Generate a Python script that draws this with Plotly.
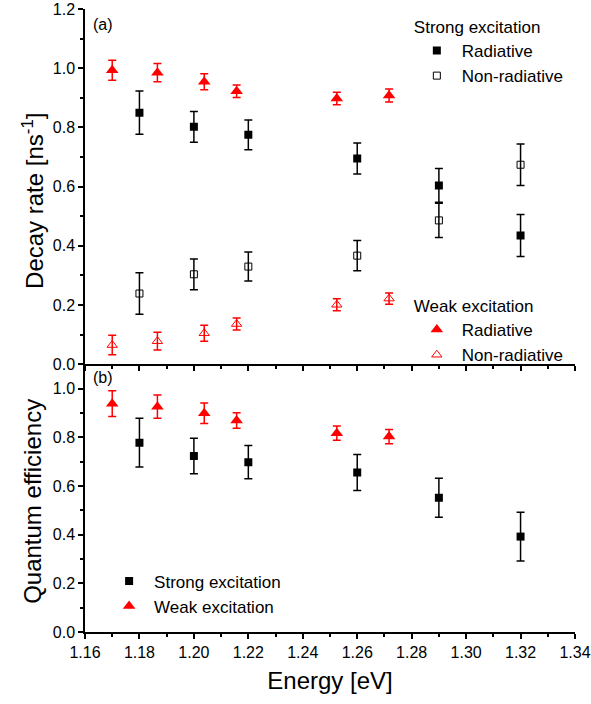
import plotly.graph_objects as go

# Emission energies (eV)
energy_strong = [1.18, 1.20, 1.22, 1.26, 1.29, 1.32]
energy_weak = [1.170, 1.1866, 1.2038, 1.2157, 1.2525, 1.2717]

# Decay rates (ns^-1), strong excitation
strong_rad = [0.850, 0.802, 0.775, 0.695, 0.604, 0.435]
strong_rad_err = [0.073, 0.052, 0.050, 0.052, 0.057, 0.071]
strong_nonrad = [0.239, 0.304, 0.330, 0.367, 0.486, 0.674]
strong_nonrad_err = [0.070, 0.052, 0.049, 0.051, 0.058, 0.070]

# Decay rates (ns^-1), weak excitation
weak_rad = [0.993, 0.985, 0.954, 0.922, 0.898, 0.908]
weak_rad_err = [0.034, 0.031, 0.027, 0.021, 0.021, 0.022]
weak_nonrad = [0.065, 0.078, 0.105, 0.136, 0.201, 0.222]
weak_nonrad_err = [0.033, 0.030, 0.027, 0.020, 0.020, 0.019]

# Quantum efficiency
qe_strong = [0.778, 0.723, 0.698, 0.655, 0.552, 0.392]
qe_strong_err = [0.100, 0.073, 0.068, 0.074, 0.080, 0.100]
qe_weak = [0.938, 0.926, 0.899, 0.869, 0.817, 0.803]
qe_weak_err = [0.053, 0.048, 0.042, 0.032, 0.029, 0.029]

FONT = "Arial, 'Liberation Sans', sans-serif"
BLACK = "#000000"
RED = "#ff0000"


def err(vals, color, width=4):
    return dict(type="data", array=vals, visible=True, color=color,
                thickness=1.5, width=width)


fig = go.Figure()

# (a) decay rates
fig.add_trace(go.Scatter(
    x=energy_strong, y=strong_rad, mode="markers", name="Radiative",
    marker=dict(symbol="square", size=8, color=BLACK),
    error_y=err(strong_rad_err, BLACK), xaxis="x2", yaxis="y2", legend="legend"))
fig.add_trace(go.Scatter(
    x=energy_strong, y=strong_nonrad, mode="markers", name="Non-radiative",
    marker=dict(symbol="square-open", size=7, color=BLACK, line=dict(width=1)),
    error_y=err(strong_nonrad_err, BLACK), xaxis="x2", yaxis="y2", legend="legend"))
fig.add_trace(go.Scatter(
    x=energy_weak, y=weak_rad, mode="markers", name="Radiative",
    marker=dict(symbol="triangle-up", size=11, color=RED),
    error_y=err(weak_rad_err, RED), xaxis="x2", yaxis="y2", legend="legend2"))
fig.add_trace(go.Scatter(
    x=energy_weak, y=weak_nonrad, mode="markers", name="Non-radiative",
    marker=dict(symbol="triangle-up-open", size=9, color=RED, line=dict(width=1)),
    error_y=err(weak_nonrad_err, RED), xaxis="x2", yaxis="y2", legend="legend2"))

# (b) quantum efficiency
fig.add_trace(go.Scatter(
    x=energy_strong, y=qe_strong, mode="markers", name="Strong excitation",
    marker=dict(symbol="square", size=8, color=BLACK),
    error_y=err(qe_strong_err, BLACK), xaxis="x", yaxis="y", legend="legend3"))
fig.add_trace(go.Scatter(
    x=energy_weak, y=qe_weak, mode="markers", name="Weak excitation",
    marker=dict(symbol="triangle-up", size=11, color=RED),
    error_y=err(qe_weak_err, RED), xaxis="x", yaxis="y", legend="legend3"))

split = 0.4297
xrange = [1.16, 1.34]
tickfont = dict(family=FONT, size=16, color=BLACK)
axis_common = dict(showline=True, linecolor=BLACK, linewidth=1.5, showgrid=False,
                   zeroline=False, tickcolor=BLACK, tickwidth=1.5, ticklen=5,
                   tickfont=tickfont, automargin=False)
minor_x = dict(dtick=0.01, ticklen=3, tickcolor=BLACK, tickwidth=1.5, ticks="outside")
minor_y = dict(dtick=0.1, ticklen=3, tickcolor=BLACK, tickwidth=1.5, ticks="outside")
legend_font = dict(family=FONT, size=17, color=BLACK)
title_font = dict(family=FONT, size=24, color=BLACK)

fig.update_layout(
    width=591, height=704,
    margin=dict(l=85, r=16, t=9, b=72),
    paper_bgcolor="white", plot_bgcolor="white",
    font=dict(family=FONT, color=BLACK),
    # bottom panel axes
    xaxis=dict(axis_common, domain=[0, 1], anchor="y", range=xrange, dtick=0.02,
               tickformat=".2f", ticks="outside", minor=minor_x,
               title=dict(text="Energy [eV]", font=title_font, standoff=12)),
    yaxis=dict(axis_common, domain=[0, split], anchor="x", range=[0, 1.1],
               tick0=0, dtick=0.2, tickformat=".1f", ticks="outside", minor=minor_y),
    # top panel axes
    xaxis2=dict(axis_common, domain=[0, 1], anchor="y2", range=xrange, dtick=0.02,
                ticks="outside", showticklabels=False, minor=minor_x),
    yaxis2=dict(axis_common, domain=[split, 1], anchor="x2", range=[0, 1.2],
                tick0=0, dtick=0.2, tickformat=".1f", ticks="outside", minor=minor_y),
    # mirrored frame with inward ticks
    xaxis3=dict(axis_common, overlaying="x2", anchor="y2", side="top", range=xrange,
                dtick=0.02, ticks="inside", showticklabels=False,
                minor=dict(minor_x, ticks="inside")),
    yaxis3=dict(axis_common, overlaying="y2", anchor="x2", side="right", range=[0, 1.2],
                dtick=0.2, ticks="inside", showticklabels=False,
                minor=dict(minor_y, ticks="inside")),
    yaxis4=dict(axis_common, overlaying="y", anchor="x", side="right", range=[0, 1.1],
                dtick=0.2, ticks="inside", showticklabels=False,
                minor=dict(minor_y, ticks="inside")),
    legend=dict(x=0.667, y=0.997, xanchor="left", yanchor="top",
                bgcolor="rgba(0,0,0,0)", font=legend_font,
                title=dict(text="Strong excitation", font=legend_font),
                tracegroupgap=0, itemwidth=40),
    legend2=dict(x=0.667, y=0.549, xanchor="left", yanchor="top",
                 bgcolor="rgba(0,0,0,0)", font=legend_font,
                 title=dict(text="Weak excitation", font=legend_font),
                 tracegroupgap=0, itemwidth=40),
    legend3=dict(x=0.039, y=0.11, xanchor="left", yanchor="top",
                 bgcolor="rgba(0,0,0,0)", font=legend_font,
                 tracegroupgap=0, itemwidth=40),
    annotations=[
        dict(text="(a)", xref="paper", yref="paper", x=0.012, y=0.992,
             xanchor="left", yanchor="top", showarrow=False,
             font=dict(family=FONT, size=16, color=BLACK)),
        dict(text="(b)", xref="paper", yref="paper", x=0.012, y=split - 0.004,
             xanchor="left", yanchor="top", showarrow=False,
             font=dict(family=FONT, size=16, color=BLACK)),
        # vertical axis titles of both panels
        dict(text="Decay rate [ns<sup>-1</sup>]", xref="paper", yref="paper",
             x=-0.106, y=0.692, xanchor="center", yanchor="middle", textangle=-90,
             showarrow=False, font=title_font),
        dict(text="Quantum efficiency", xref="paper", yref="paper",
             x=-0.106, y=0.209, xanchor="center", yanchor="middle", textangle=-90,
             showarrow=False, font=title_font),
    ],
)

fig.write_html("out.html")
